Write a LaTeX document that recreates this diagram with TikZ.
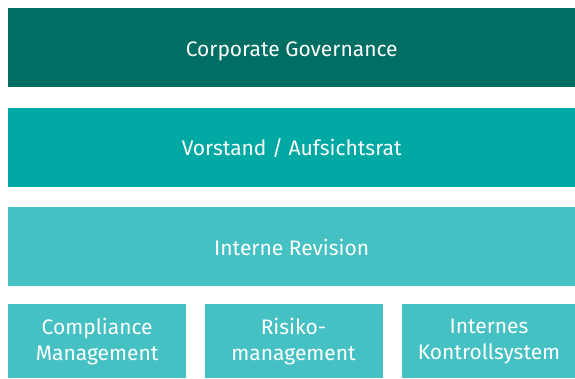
\documentclass[tikz,border=0pt]{standalone}
\usepackage{fontspec}
\setmainfont{Fira Sans}
\usetikzlibrary{positioning}
\definecolor{govdark}{HTML}{006E63}
\definecolor{govmid}{HTML}{00A9A4}
\definecolor{govlight}{HTML}{45C1C4}

\begin{document}
\begin{tikzpicture}[x=1pt, y=-1pt,
				level/.style={rectangle, inner sep=0pt, minimum width=567pt, minimum height=79pt, text height=21pt, text depth=4pt, text=white, font=\fontsize{21}{25}\selectfont},
				pillar/.style={rectangle, inner sep=0pt, minimum width=178pt, minimum height=74pt, fill=govlight, text=white, align=center, font=\fontsize{21}{26}\selectfont, execute at begin node={\rule{0pt}{21pt}}}
			]
			\useasboundingbox (0,0) rectangle (575,378);
			\node[level, fill=govdark, anchor=north west] (governance) at (8,8) {Corporate Governance};
			\node[level, fill=govmid] (board) [below=20pt of governance] {Vorstand / Aufsichtsrat};
			\node[level, fill=govlight] (audit) [below=20pt of board] {Interne Revision};
			\node[pillar, anchor=north west] (compliance) at (8,304) {Compliance\\Management};
			\node[pillar, minimum width=178pt] (risk) [right=18pt of compliance] {Risiko-\\management};
			\node[pillar, minimum width=174pt] (control) [right=19pt of risk] {Internes\\Kontrollsystem};
			\end{tikzpicture}
\end{document}
